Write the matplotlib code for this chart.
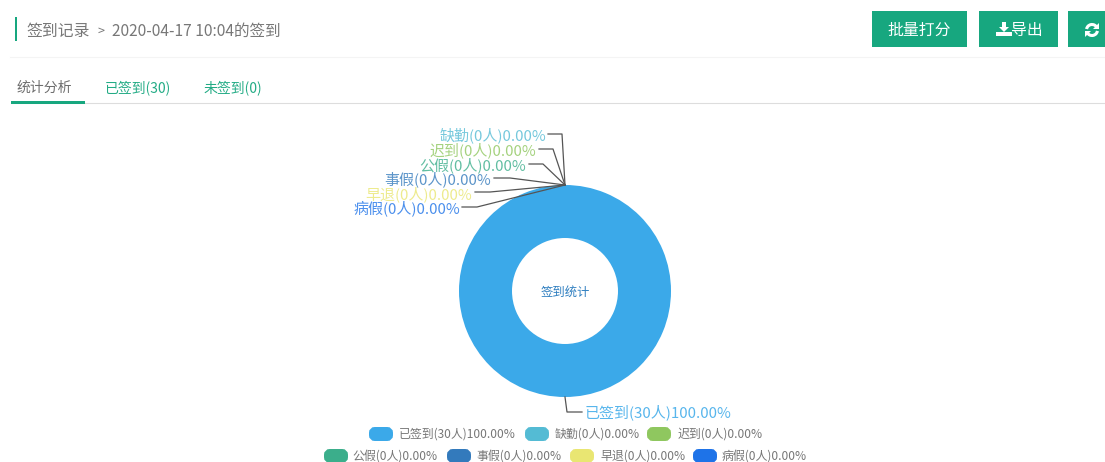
import matplotlib

matplotlib.use("Agg")
from matplotlib import pyplot as plt
from matplotlib.patches import Arc, FancyBboxPatch, Polygon, Rectangle

plt.rcParams["font.family"] = ["Noto Sans CJK SC", "DejaVu Sans"]

names = ["已签到", "缺勤", "迟到", "公假", "事假", "早退", "病假"]
counts = [30, 0, 0, 0, 0, 0, 0]
percents = ["100.00%", "0.00%", "0.00%", "0.00%", "0.00%", "0.00%", "0.00%"]
colors = ["#3BA9E9", "#54BBD4", "#8FC75F", "#3BAE8B", "#337ABC", "#E9E672", "#1E73E8"]

page_title = "签到记录"
record_title = "2020-04-17 10:04的签到"
tab_labels = ["统计分析", "已签到(30)", "未签到(0)"]
center_label = "签到统计"

GREEN = "#17A77F"
GREY = "#777777"

labels = [f"{n}({c}人){p}" for n, c, p in zip(names, counts, percents)]

fig = plt.figure(figsize=(11.05, 4.62), dpi=100)
# whole figure is one axes in pixel coords, y going down like the screenshot
ax = fig.add_axes([0, 0, 1, 1])
ax.set_xlim(0, 1105)
ax.set_ylim(462, 0)
ax.axis("off")

# header
ax.add_patch(Rectangle((15, 17), 2, 24, color=GREEN, lw=0))
ax.text(26, 31, page_title, fontsize=11.4, color=GREY, va="center")
ax.text(98, 31, ">", fontsize=9, color=GREY, va="center")
ax.text(112, 31, record_title, fontsize=11.2, color=GREY, va="center")
ax.plot([10, 1105], [57, 57], color="#F4F4F4", lw=0.8)

# buttons
ax.add_patch(Rectangle((872, 11), 95, 36, color=GREEN, lw=0))
ax.text(919.5, 30.5, "批量打分", fontsize=11.4, color="white", va="center", ha="center")
ax.add_patch(Rectangle((979, 11), 79, 36, color=GREEN, lw=0))
ax.add_patch(Polygon([(1002, 22), (1006, 22), (1006, 27), (1009, 27), (1004, 32), (999, 27), (1002, 27)],
                     color="white", lw=0))
ax.add_patch(Rectangle((996, 32), 16, 4, color="white", lw=0))
ax.text(1027, 30.5, "导出", fontsize=11.4, color="white", va="center", ha="center")
ax.add_patch(Rectangle((1068, 11), 37, 36, color=GREEN, lw=0))
# refresh icon: two arcs with arrow heads
ax.add_patch(Arc((1092, 30), 11, 11, theta1=190, theta2=330, color="white", lw=2.2))
ax.add_patch(Arc((1092, 30), 11, 11, theta1=10, theta2=150, color="white", lw=2.2))
ax.add_patch(Polygon([(1099, 23), (1099, 29), (1093, 29)], color="white", lw=0))
ax.add_patch(Polygon([(1085, 37), (1085, 31), (1091, 31)], color="white", lw=0))

# tabs
tab_x = [17, 105, 204]
tab_colors = ["#666666", GREEN, GREEN]
for x, label, c in zip(tab_x, tab_labels, tab_colors):
    ax.text(x, 87.5, label, fontsize=10, color=c, va="center", alpha=0.95)
ax.plot([11, 1105], [102.5, 102.5], color="#DDDDDD", lw=0.8)
ax.add_patch(Rectangle((11, 101), 74, 2.5, color=GREEN, lw=0, zorder=3))

# donut
ax.pie(counts, colors=colors, center=(565, 291), radius=106, startangle=90,
       counterclock=False, wedgeprops={"width": 53, "linewidth": 0}, frame=True)
ax.set_xlim(0, 1105)
ax.set_ylim(462, 0)
ax.axis("off")
ax.text(565, 292, center_label, fontsize=8.9, color="#2F7FC0", ha="center", va="center")

# outside labels with leader lines
leaders = [
    (1, 546, 135, [(548, 134), (562, 134), (565, 185)]),
    (2, 536, 150, [(539, 149), (553, 149), (565, 185)]),
    (3, 526, 165, [(529, 164), (543, 164), (565, 185)]),
    (4, 491, 179, [(494, 178), (510, 178), (565, 185)]),
    (5, 472, 194, [(475, 192), (490, 192), (565, 185)]),
    (6, 460, 208, [(462, 207), (477, 207), (565, 185)]),
]
for i, x, y, pts in leaders:
    ax.plot([p[0] for p in pts], [p[1] for p in pts], color="#555555", lw=0.9, zorder=1)
    ax.text(x, y, labels[i], fontsize=10.8, color=colors[i], ha="right", va="center", alpha=0.8)
ax.plot([565, 567, 582], [397, 412, 412], color="#555555", lw=0.9)
ax.text(585, 412, labels[0], fontsize=10.8, color=colors[0], va="center", alpha=0.85)

# legend, two centred rows
legend_pos = [(369, 434), (525, 434), (647, 434), (324, 456), (447, 456), (570, 456), (693, 456)]
legend_text_x = [399, 555, 678, 352, 476, 600, 722]
for (x, y), tx, label, c in zip(legend_pos, legend_text_x, labels, colors):
    ax.add_patch(FancyBboxPatch((x + 3, y - 4), 18, 8, boxstyle="round,pad=0,rounding_size=3",
                                mutation_aspect=1, facecolor=c, edgecolor=c, lw=6 * 0.72))
    ax.text(tx, y + 0.5, label, fontsize=8.6, color="#777777", va="center")

fig.savefig("out.png", dpi=100)
